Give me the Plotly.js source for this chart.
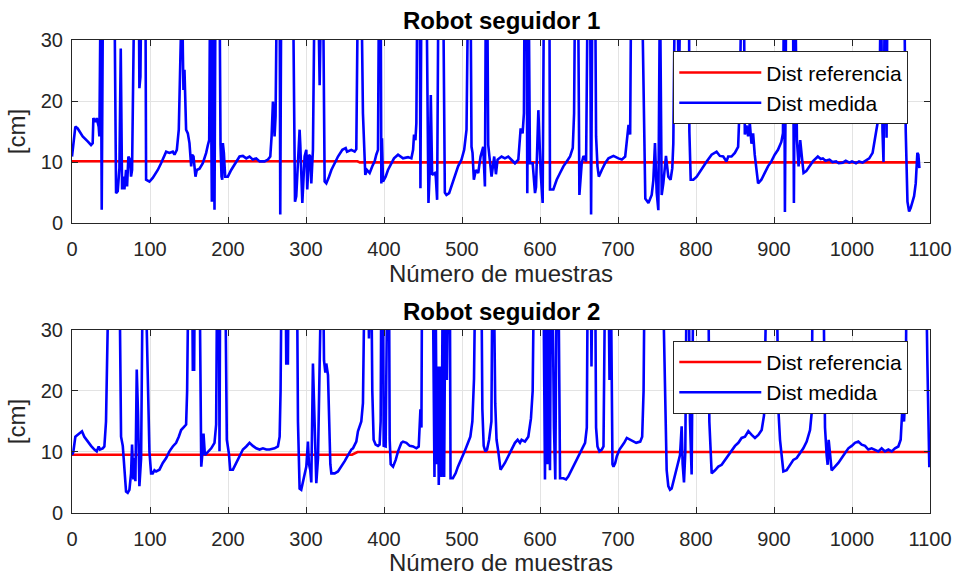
<!DOCTYPE html>
<html>
<head>
<meta charset="utf-8">
<script src="https://cdn.plot.ly/plotly-3.0.1.min.js"></script>
<style>
  html, body { margin: 0; padding: 0; background: #ffffff; }
  #chart { width: 956px; height: 576px; }
</style>
</head>
<body>
<div id="chart"></div>
<script>
// Follower robot 1: sample index and measured distance [cm] (readings above 30 are out of range)
const sampleR1 = [
  0, 4.3, 7.3, 13.7, 20.1, 24.4, 26.5, 27.4, 30, 31.7, 34.2, 35.1, 36.8, 38.1, 39.8, 54.3,
  56.5, 58.6, 60.8, 62.5, 64.2, 65.9, 67.2, 69.3, 70.6, 72.3, 74.5, 75.7, 77, 80, 85.6, 86.4,
  87.7, 89, 94.1, 95, 99.3, 103.5, 110, 114.2, 118.5, 120.7, 124.9, 129.2, 131.4, 134.4, 136.9, 138.6,
  141.2, 142.1, 142.9, 144.2, 145.5, 146.3, 148.5, 150.6, 152.8, 154, 155.8, 156.6, 158.3, 160, 163.5, 167.7,
  172, 174.2, 175.9, 177.1, 179.3, 180.6, 182.7, 184, 189.1, 190.4, 191.7, 192.6, 193.4, 194.7, 196.4, 199.8,
  204.1, 208.4, 210.5, 214.8, 219.1, 223.4, 227.6, 231.9, 236.2, 240.5, 246.9, 251.2, 254.2, 255.9, 257.6, 259.7,
  261, 262.7, 266.2, 267, 268.3, 283.3, 285.9, 287.5, 290.1, 291.8, 292.7, 295.3, 298.2, 300.4, 301.6, 303.8,
  305.5, 306.8, 308.9, 311.1, 315.4, 317.5, 319.6, 321.8, 323.9, 326, 329.5, 332.5, 336.8, 341, 346.6, 350.9,
  352.6, 358.1, 362.4, 364.5, 366.6, 370.9, 373, 374.3, 376, 378.2, 381.6, 385, 388, 390.1, 392.3, 393.6,
  395.7, 396.6, 397.4, 398.7, 402.1, 405.1, 409.4, 412.8, 418, 424.4, 430.8, 435.1, 437.3, 438.5, 440.3, 441.5,
  442.8, 445.8, 446.7, 448, 454.4, 457, 458.7, 460, 461.7, 465.1, 466.4, 468.1, 469.8, 475.8, 478, 480.1,
  483.5, 486.5, 490.7, 495, 499.4, 502.8, 505.8, 507.9, 510.9, 512.2, 513.5, 515.2, 517.8, 520.8, 523.8, 527.2,
  529.4, 530.6, 532.3, 533.6, 537.9, 541.3, 543.5, 545.6, 550.7, 555, 559.3, 563.6, 567.9, 572.2, 575.2, 577.7,
  579.4, 580.3, 582.9, 583.7, 585.4, 587.1, 590.6, 593.6, 594.9, 597.9, 599.1, 600.9, 603.4, 605.1, 612, 612.8,
  617.1, 621.4, 625.7, 630, 634.3, 638.5, 642, 643.7, 645, 648.8, 650.5, 653.5, 655.7, 659.1, 661.2, 664.2,
  665.5, 667.2, 670.7, 671.9, 673.7, 675.4, 679.2, 683.5, 687.8, 694.2, 700.6, 704.9, 709.2, 711.3, 713.5, 715.6,
  716.9, 730.6, 733, 735, 739, 743.2, 745.3, 747.4, 749.6, 751.7, 753.8, 756, 758.1, 761.5, 764.5, 767.4,
  769.6, 770.9, 773, 776, 778, 780, 791, 791.5, 793.2, 796.6, 800.9, 805.1, 809.4, 813.7, 820, 824.3,
  826.4, 830.6, 834.9, 839.1, 841.3, 845.5, 849.8, 854, 856.2, 858.3, 861.3, 862.6, 864.7, 866.8, 869, 871.1,
  873.2, 875.3, 877.4, 879.6, 883.8, 888.1, 892.3, 896.6, 900.9, 905.1, 909.4, 911.5, 912.8, 914, 915.7, 924.3,
  925.5, 927.2, 929.4, 931.5, 933.6, 935.7, 937.9, 941.3, 945.5, 949.8, 956.2, 960, 962.6, 966, 971.1, 975,
  979.6, 983, 988.1, 992, 996.6, 1000, 1005.1, 1009, 1013.6, 1018, 1022.1, 1026.4, 1030.6, 1032.8, 1034.9, 1037,
  1039.1, 1040.4, 1042.1, 1044.3, 1045.5, 1066.8, 1068.9, 1071.1, 1073.2, 1075.3, 1077.4, 1079.6, 1081.7, 1083.8, 1085.1, 1086.4
];
const distR1 = [
  10.9, 15.8, 15.5, 14.2, 13.4, 12.8, 13.1, 17.2, 16.6, 17.2, 15.8, 14.2, 40, 2.2, 40, 40,
  4.9, 5.2, 9, 28.6, 5.5, 7.6, 5.5, 8.7, 6, 10.9, 10.4, 7.6, 8.7, 40, 40, 22.1,
  24, 40, 40, 7.1, 6.8, 7.4, 8.7, 9.8, 10.9, 11.7, 11.5, 11.7, 11.2, 12, 15.3, 40,
  40, 28.1, 21.8, 25.1, 20.7, 15.3, 14.7, 13.1, 9.3, 11.2, 10.9, 10.1, 7.6, 8.7, 8.9, 9.8,
  11.5, 12.8, 13.6, 40, 3.5, 40, 2.2, 40, 40, 12.8, 7.6, 7.1, 13.1, 11.5, 7.6, 7.6,
  8.7, 9.5, 10.1, 10.9, 11, 10.6, 10.9, 10.4, 10.6, 10.1, 10.1, 10.4, 10.9, 14.2, 19.9, 14.2,
  17.5, 40, 40, 1.4, 40, 40, 3.5, 4.4, 12.5, 15.3, 12.8, 3.3, 10.9, 12, 5.5, 11.2,
  10.9, 6.5, 12, 40, 40, 22.6, 40, 40, 6.8, 6.5, 7.6, 8.7, 9.8, 10.9, 12, 12.3,
  11.7, 12, 11.7, 12.1, 40, 40, 18, 13.1, 7.9, 8.7, 8.2, 9.3, 10.1, 11.2, 12, 40,
  40, 6.5, 13.9, 6.8, 7.6, 8.7, 9.8, 10.6, 11.2, 10.6, 10.8, 10.6, 12, 14.5, 13.6, 16.4,
  40, 40, 5.7, 40, 40, 3.3, 9, 21, 7.9, 8.2, 7.6, 3.8, 40, 40, 5, 4.6,
  4.9, 6, 7.6, 9.3, 10.4, 12, 15.3, 40, 40, 12.5, 11.5, 7.1, 8.7, 8.2, 10.9, 12.5,
  6, 40, 40, 12.8, 7.6, 10.9, 8, 10.4, 10.9, 10.6, 10.9, 10.4, 9.8, 10.4, 15.5, 14.7,
  18, 40, 40, 4.9, 40, 9.8, 9.8, 4.9, 5.9, 18.5, 12.5, 8.2, 3.3, 40, 40, 5.5,
  5.5, 7.1, 8.2, 9.3, 10.1, 10.9, 12.3, 18, 40, 40, 4.6, 9.8, 11, 10.1, 40, 40,
  1.4, 40, 40, 14.2, 9.3, 7.6, 8.7, 9.8, 10.6, 11, 10.6, 10.4, 10.9, 13, 16.1, 14.5,
  40, 40, 20, 4, 3.3, 4.6, 7, 13.1, 5, 2.1, 40, 4.6, 6.5, 11, 7.6, 7.1,
  9, 13, 40, 40, 20, 40, 40, 15, 7.1, 7.1, 7.6, 8.5, 9.3, 10.1, 11.2, 11.5,
  11.7, 11, 10.9, 10.1, 10.9, 10.9, 11.5, 12.5, 20, 40, 40, 14.5, 16, 14.2, 16.4, 13,
  14.7, 11.2, 9.3, 6.5, 7.1, 8.2, 9.3, 10.1, 11.2, 12, 13.3, 14.7, 40, 1.8, 40, 40,
  3.3, 40, 13.6, 9.3, 13.6, 10.9, 8.2, 8.5, 9.3, 10.1, 10.9, 10.5, 10.6, 10.2, 10.4, 10.0,
  10.1, 9.8, 9.9, 10.2, 9.9, 10.1, 9.8, 10.1, 9.9, 10.2, 10.6, 11.5, 14.5, 16.4, 17, 40,
  15, 10, 40, 14, 40, 40, 15, 3.5, 1.9, 2.5, 3.3, 4.4, 6.5, 11.5, 11.2, 9
];

// Follower robot 1: reference distance [cm]
const refSampleR1 = [0, 366, 369, 1086.4];
const refDistR1 = [10.12, 10.12, 9.95, 9.95];

// Follower robot 2: sample index and measured distance [cm]
const sampleR2 = [
  0, 1.7, 4.3, 7.3, 10.3, 12.8, 15.8, 20.1, 24.4, 28.7, 31.7, 34.2, 35.9, 39.4, 41.5, 43.6,
  45.8, 47.1, 60.8, 62.9, 65.1, 67.2, 69.3, 71.4, 73.6, 75.7, 77, 78.7, 80, 81.3, 83, 84.7,
  86.4, 88.6, 90.7, 94.1, 95.8, 97.1, 99.3, 101.4, 103.5, 105.7, 107.8, 112.1, 116.4, 120.7, 124.9, 129.2,
  133.5, 136.9, 139.9, 144.2, 146.3, 147.6, 149.3, 154, 154.9, 156.6, 157.4, 163.5, 165.7, 167, 168.6, 170.4,
  174.2, 178.5, 182.7, 184.8, 186.1, 188.3, 189.1, 190, 196.4, 198.5, 201.1, 202.8, 206.3, 210.5, 214.8, 219.1,
  223.4, 227.6, 231.9, 236.2, 240.5, 244.8, 249.1, 253.3, 259.7, 264, 266.2, 267.4, 268.7, 273.8, 274.7, 276.8,
  277.7, 288.4, 289.7, 291.8, 293.9, 296.1, 298.2, 300.4, 302.5, 303.8, 305.5, 306.8, 308.9, 311.1, 313.2, 315.4,
  317.5, 319.6, 321.8, 323.1, 324.8, 326, 328.2, 329.5, 331.2, 332.5, 336.8, 341, 345.3, 349.6, 353.9, 358.1,
  360.2, 362.4, 364.5, 366.6, 370.9, 373, 374.3, 375.2, 379.4, 380.7, 382.4, 383.7, 385, 386.7, 389.3, 392.3,
  394.4, 395.7, 396.6, 398.7, 399.6, 402.1, 404.3, 406.4, 407.3, 408.6, 411.6, 415, 418, 422.3, 424.4, 428.7,
  433, 437.3, 441.5, 444.5, 446.7, 448, 448.8, 462.5, 464.7, 466, 467.7, 469, 470.2, 471.9, 473.7, 475.4,
  477.1, 478.8, 480.6, 482.3, 484.4, 485.3, 488.3, 491.8, 494.8, 499, 503.4, 507.7, 510.7, 513.3, 515.4, 517.1,
  524.8, 526.1, 527.8, 529.9, 532.1, 534.7, 537.7, 539, 540.7, 542.6, 544.3, 546.5, 549.4, 552, 555, 559.3,
  563.6, 567.9, 571.3, 574.3, 576.4, 580.7, 585, 588.4, 590.6, 592.3, 604.3, 606.4, 607.7, 609.4, 610.7, 612.8,
  614.1, 615.8, 617.9, 619.6, 621.4, 623.6, 625.7, 630, 633.4, 636.4, 640.7, 645, 649.3, 653.5, 657.8, 660,
  661.2, 665.1, 666, 667.2, 670.7, 671.9, 673.7, 676.2, 679.2, 681.4, 683.5, 687.8, 689.1, 690.8, 692.9, 694.2,
  696.4, 698.5, 701.9, 704.9, 707.9, 711.3, 715.6, 719, 723.3, 728.5, 731, 732.8, 734.1, 757.3, 760.3, 762.4,
  764.5, 766.7, 768.8, 770.9, 773, 775.2, 777.4, 779.5, 781.6, 782.9, 784.6, 786.3, 788, 790.6, 792.3, 794.4,
  796.6, 815.8, 817.1, 820.1, 824.4, 828.6, 832.9, 837.2, 841.5, 845.7, 850, 854.3, 858.5, 862.8, 867.1, 871.4,
  875.6, 879.9, 884.2, 887.2, 889.3, 890.6, 903.4, 905.6, 907.7, 909.8, 912, 916.2, 920.5, 924.8, 929.1, 933.3,
  937.6, 941.9, 946.2, 948.3, 949.6, 963.2, 965.4, 967.5, 968.8, 970.1, 971.8, 973.9, 978.2, 982.5, 986.8, 991,
  995.3, 999.6, 1003.8, 1008.1, 1012.4, 1016.7, 1020.9, 1025.2, 1029.5, 1033.8, 1038, 1042.3, 1046.6, 1050.9, 1055.1, 1059.4,
  1062.4, 1064.5, 1066.7, 1068.8, 1070.1, 1094.9, 1096.6, 1098.3, 1099.1
];
const distR2 = [
  9.5, 10, 12.5, 12.8, 13.1, 13.4, 12.5, 11.7, 11, 10.4, 10.1, 10.9, 10.4, 10.6, 10.9, 15,
  30, 40, 40, 12.5, 11, 7, 3.5, 3.3, 3.8, 6.5, 11.2, 5.5, 9, 5.2, 23.5, 16,
  4.4, 9, 40, 40, 30, 20, 10, 6.5, 6.5, 7, 6.8, 7.1, 8.2, 9, 10.1, 10.9,
  11.5, 12.5, 13.6, 14.2, 14.5, 20, 40, 40, 23.5, 23.5, 40, 40, 7.6, 9.5, 13, 9.5,
  10.1, 10.6, 11.5, 14.5, 40, 40, 10.1, 40, 40, 12, 9.8, 7.1, 7.1, 8.2, 9.3, 10.4,
  10.9, 11.5, 11, 10.6, 10.4, 10.6, 10.4, 10.4, 10.6, 10.9, 12.5, 20, 40, 40, 24.5, 24.5,
  40, 40, 15, 4, 3.8, 5, 6, 7.6, 11.7, 8, 7, 5, 24.5, 15, 4.9, 9,
  23.5, 40, 40, 25, 23, 24.5, 22.6, 15, 8, 6.5, 6.5, 6.8, 7.6, 8.5, 9.5, 10.4,
  10.6, 11.2, 11.7, 13.4, 15, 18, 28, 40, 40, 28.6, 40, 40, 20, 12, 11.2, 11,
  11.2, 15, 40, 40, 11, 10.9, 40, 40, 12, 8, 7.6, 8.7, 10.1, 11.5, 11.7, 11.5,
  11, 10.9, 10.6, 10.9, 17, 14, 40, 40, 5.9, 40, 8, 24, 4.6, 24, 5.9, 40,
  5.9, 40, 21.8, 40, 40, 5.7, 5.7, 6.5, 7.6, 8.7, 10.1, 11.5, 12.5, 15, 22, 40,
  40, 17, 11, 10.1, 10.4, 12, 15, 40, 40, 18, 12, 10.1, 7.1, 7.6, 8.2, 9.3,
  10.4, 11.5, 12, 11.5, 12, 11.7, 12.5, 15.5, 20, 40, 40, 5.5, 40, 8, 40, 7,
  40, 40, 14, 5.5, 40, 40, 5.7, 5.7, 5.5, 6, 7.1, 8.2, 9.3, 10.4, 11.5, 14,
  40, 40, 24, 40, 40, 14, 10.9, 10.1, 10.4, 10.9, 40, 40, 21.8, 40, 8, 7.6,
  8.2, 9.3, 10.4, 10.9, 11.5, 12.3, 12, 11.7, 11.5, 11.7, 12.5, 20, 40, 40, 20, 7,
  4.4, 3.8, 4, 5, 6, 7.1, 8.2, 9.5, 14.2, 8, 5, 10, 40, 40, 15, 6.3,
  40, 40, 15, 6.5, 7, 7.6, 7.9, 8.7, 9.5, 10.4, 11, 11.5, 12.3, 12.5, 13.4, 12.8,
  12.3, 12.8, 13.6, 16, 25, 40, 40, 17, 12, 9, 6.8, 7, 7.9, 8.7, 9, 9.8,
  10.6, 11.7, 13.6, 16.4, 40, 40, 14, 9.5, 7.9, 12, 9.5, 7, 7.6, 8.2, 9, 9.8,
  10.6, 11, 11.5, 11.7, 11.2, 11, 10.4, 10.6, 10.4, 10.1, 10.6, 10.1, 10.4, 10.1, 10.6, 10.9,
  12, 17, 15, 20, 40, 40, 25, 15, 7.5
];

// Follower robot 2: reference distance [cm]
const refSampleR2 = [0, 359, 366, 1100];
const refDistR2 = [9.55, 9.55, 10.0, 10.0];

const legendNames = ['Dist referencia', 'Dist medida'];
const subplotTitles = ['Robot seguidor 1', 'Robot seguidor 2'];
const xTickVals = [0, 100, 200, 300, 400, 500, 600, 700, 800, 900, 1000, 1100];
const yTickVals = [0, 10, 20, 30];

const FONT = '"Liberation Sans", Arial, Helvetica, sans-serif';
const AXIS_COLOR = '#262626';
const GRID_COLOR = '#e3e3e3';

const traces = [
  { x: refSampleR1, y: refDistR1, name: legendNames[0], type: 'scatter', mode: 'lines',
    line: { color: '#ff0000', width: 2.6 }, xaxis: 'x', yaxis: 'y', legend: 'legend' },
  { x: sampleR1, y: distR1, name: legendNames[1], type: 'scatter', mode: 'lines',
    line: { color: '#0000ff', width: 2.6 }, xaxis: 'x', yaxis: 'y', legend: 'legend' },
  { x: refSampleR2, y: refDistR2, name: legendNames[0], type: 'scatter', mode: 'lines',
    line: { color: '#ff0000', width: 2.6 }, xaxis: 'x2', yaxis: 'y2', legend: 'legend2' },
  { x: sampleR2, y: distR2, name: legendNames[1], type: 'scatter', mode: 'lines',
    line: { color: '#0000ff', width: 2.6 }, xaxis: 'x2', yaxis: 'y2', legend: 'legend2' }
];

function xAxis(anchor) {
  return {
    anchor: anchor, domain: [0, 1], range: [0, 1100],
    tickvals: xTickVals, ticktext: xTickVals.map(String),
    ticks: 'inside', ticklen: 6, tickwidth: 1, tickcolor: AXIS_COLOR,
    showline: true, linecolor: AXIS_COLOR, linewidth: 1, mirror: 'ticks',
    showgrid: true, gridcolor: GRID_COLOR, gridwidth: 1, zeroline: false,
    tickfont: { family: FONT, size: 20, color: AXIS_COLOR },
    ticklabelstandoff: 8,
    title: { text: 'Número de muestras', font: { family: FONT, size: 24, color: AXIS_COLOR }, standoff: 4 }
  };
}
function yAxis(anchor, domain) {
  return {
    anchor: anchor, domain: domain, range: [0, 30],
    tickvals: yTickVals, ticktext: yTickVals.map(String),
    ticks: 'inside', ticklen: 6, tickwidth: 1, tickcolor: AXIS_COLOR,
    showline: true, linecolor: AXIS_COLOR, linewidth: 1, mirror: 'ticks',
    showgrid: true, gridcolor: GRID_COLOR, gridwidth: 1, zeroline: false,
    tickfont: { family: FONT, size: 20, color: AXIS_COLOR },
    ticklabelstandoff: 4,
    title: { text: '[cm]', font: { family: FONT, size: 24, color: AXIS_COLOR }, standoff: 8 }
  };
}
function legendBox(y) {
  return {
    x: 0.9747, y: y, xanchor: 'right', yanchor: 'top',
    bgcolor: '#ffffff', bordercolor: AXIS_COLOR, borderwidth: 1,
    font: { family: FONT, size: 21, color: '#000000' },
    itemwidth: 82, traceorder: 'normal'
  };
}

const layout = {
  width: 956, height: 576,
  margin: { l: 72, r: 26, t: 40, b: 63, pad: 0 },
  paper_bgcolor: '#ffffff', plot_bgcolor: '#ffffff',
  showlegend: true,
  xaxis: xAxis('y'),
  yaxis: yAxis('x', [0.613, 1]),
  xaxis2: xAxis('y2'),
  yaxis2: yAxis('x2', [0, 0.387]),
  legend: legendBox(0.976),
  legend2: legendBox(0.364),
  annotations: [
    { text: '<b>' + subplotTitles[0] + '</b>', xref: 'paper', yref: 'paper', x: 0.5, y: 1.042,
      xanchor: 'center', yanchor: 'middle', showarrow: false,
      font: { family: FONT, size: 24, color: '#000000' } },
    { text: '<b>' + subplotTitles[1] + '</b>', xref: 'paper', yref: 'paper', x: 0.5, y: 0.427,
      xanchor: 'center', yanchor: 'middle', showarrow: false,
      font: { family: FONT, size: 24, color: '#000000' } }
  ]
};

Plotly.newPlot('chart', traces, layout, { displayModeBar: false, staticPlot: true });
</script>
</body>
</html>
